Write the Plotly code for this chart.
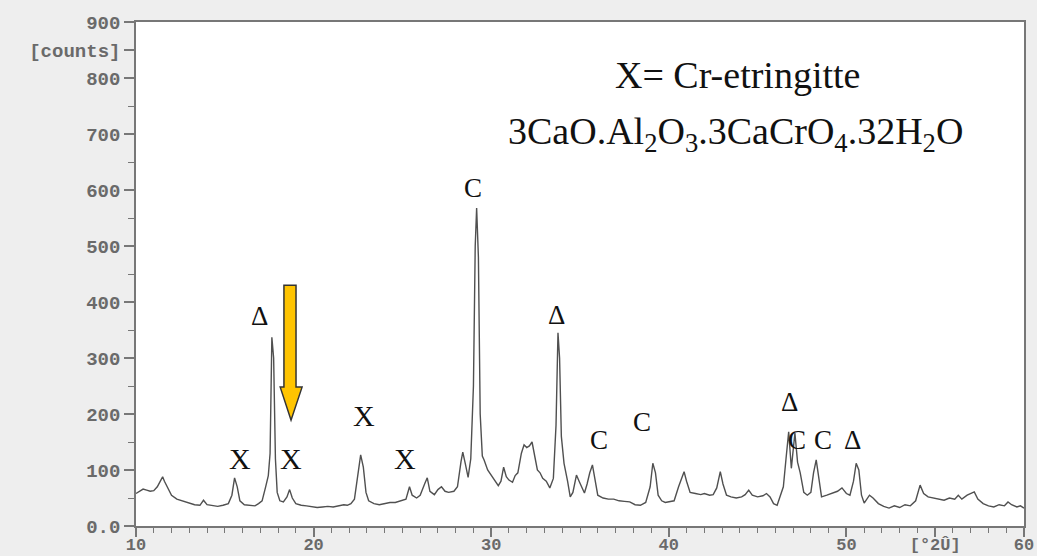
import plotly.graph_objects as go

# XRD pattern (2-theta in degrees, intensity in counts)
two_theta = [
    10.0, 10.2, 10.4, 10.6, 10.8, 11.0, 11.2, 11.4, 11.5, 11.6, 11.8, 12.0, 12.3, 12.6, 13.0, 13.3,
    13.6, 13.8, 14.0, 14.3, 14.6, 14.9, 15.2, 15.4, 15.55, 15.7, 15.85, 16.1, 16.4, 16.7, 16.9, 17.1,
    17.3, 17.45, 17.55, 17.65, 17.75, 17.85, 17.95, 18.1, 18.3, 18.5, 18.65, 18.8, 19.0, 19.3, 19.6,
    19.9, 20.2, 20.5, 20.8, 21.1, 21.4, 21.7, 21.9, 22.1, 22.3, 22.5, 22.65, 22.8, 22.95, 23.1, 23.4,
    23.7, 24.0, 24.3, 24.6, 24.9, 25.2, 25.4, 25.55, 25.8, 26.0, 26.25, 26.4, 26.55, 26.8, 27.0, 27.2,
    27.4, 27.6, 27.9, 28.1, 28.3, 28.4, 28.55, 28.7, 28.85, 29.0, 29.1, 29.18, 29.28, 29.38, 29.5,
    29.6, 29.8, 30.0, 30.2, 30.4, 30.55, 30.7, 30.85, 31.0, 31.2, 31.35, 31.5, 31.7, 31.85, 32.0,
    32.15, 32.3, 32.45, 32.6, 32.75, 32.9, 33.1, 33.3, 33.5, 33.65, 33.76, 33.85, 33.95, 34.1, 34.3,
    34.45, 34.6, 34.8, 34.95, 35.1, 35.25, 35.4, 35.55, 35.7, 35.85, 36.0, 36.3, 36.6, 36.9, 37.2,
    37.5, 37.8, 38.1, 38.4, 38.7, 38.95, 39.1, 39.25, 39.4, 39.6, 39.8, 40.0, 40.3, 40.55, 40.7,
    40.86, 41.0, 41.2, 41.5, 41.8, 42.0, 42.3, 42.5, 42.7, 42.9, 43.05, 43.25, 43.5, 43.8, 44.1,
    44.3, 44.5, 44.7, 45.0, 45.3, 45.5, 45.7, 45.9, 46.1, 46.3, 46.45, 46.6, 46.75, 46.9, 47.0, 47.1,
    47.25, 47.4, 47.6, 47.8, 48.0, 48.15, 48.3, 48.45, 48.6, 48.9, 49.2, 49.5, 49.75, 50.0, 50.2,
    50.4, 50.55, 50.7, 50.85, 51.0, 51.3, 51.5, 51.8, 52.1, 52.4, 52.7, 53.0, 53.3, 53.6, 53.9,
    54.15, 54.35, 54.6, 54.9, 55.2, 55.5, 55.8, 56.1, 56.3, 56.5, 56.8, 57.0, 57.2, 57.4, 57.7,
    58.0, 58.3, 58.6, 58.9, 59.1, 59.3, 59.6, 59.8, 60.0,
]
counts = [
    58, 62, 66, 64, 62, 63, 70, 82, 88, 80, 66, 55, 48, 45, 40, 38,
    37, 46, 38, 36, 35, 37, 40, 55, 86, 70, 45, 38, 37, 36, 40, 45,
    70, 90, 130, 337, 300, 120, 60, 45, 43, 52, 65, 50, 40, 37, 36,
    34, 33, 34, 35, 34, 36, 38, 37, 40, 48, 90, 127, 105, 60, 45, 40,
    38, 40, 42, 42, 45, 48, 70, 55, 50, 55, 75, 86, 62, 56, 65, 70,
    62, 60, 62, 70, 115, 132, 110, 87, 120, 250, 500, 568, 480, 200, 125,
    118, 100, 90, 80, 72, 80, 105, 88, 82, 78, 90, 95, 130, 145, 140,
    143, 150, 125, 100, 95, 85, 80, 68, 85, 180, 345, 300, 160, 112, 80,
    52, 60, 91, 80, 70, 59, 75, 95, 109, 80, 55, 50, 48, 48, 45,
    44, 43, 38, 37, 42, 70, 112, 95, 55, 45, 42, 43, 45, 70, 85,
    97, 80, 60, 58, 56, 58, 55, 56, 68, 97, 75, 55, 52, 50, 52,
    56, 64, 55, 52, 54, 58, 52, 40, 37, 55, 70, 120, 168, 103, 130, 166,
    114, 95, 60, 55, 60, 95, 118, 80, 52, 55, 58, 62, 68, 58, 55,
    80, 112, 100, 55, 41, 55, 50, 40, 35, 32, 36, 33, 38, 36, 45,
    73, 58, 52, 50, 48, 46, 50, 48, 55, 48, 55, 58, 61, 48, 40,
    36, 34, 38, 36, 43, 38, 34, 36, 32,
]

# Peak markers (phase labels)
marker_text = ["Δ", "X", "X", "X", "X", "C", "Δ", "C", "C", "Δ", "C", "C", "Δ"]
marker_x = [16.98, 15.86, 18.73, 22.84, 25.15, 28.97, 33.70, 36.07, 38.50, 46.80, 47.20, 48.68, 50.37]
marker_y = [375, 121, 121, 198, 121, 604, 377, 154, 186, 221, 154, 154, 154]

y_tickvals = [0, 100, 200, 300, 400, 500, 600, 700, 800, 850, 900]
y_ticktext = ["0.0", "100", "200", "300", "400", "500", "600", "700", "800", "[counts]", "900"]
x_tickvals = [10, 20, 30, 40, 50, 55, 60]
x_ticktext = ["10", "20", "30", "40", "50", "[°2Û]", "60"]

fig = go.Figure()
fig.add_trace(go.Scatter(x=two_theta, y=counts, mode="lines",
                         line=dict(color="#505050", width=1.4), showlegend=False,
                         hoverinfo="skip"))

fig.update_xaxes(range=[10, 60], tickvals=x_tickvals, ticktext=x_ticktext,
                 ticks="outside", ticklen=9, tickcolor="#777777", tickwidth=1.5,
                 minor=dict(dtick=1, ticks="outside", ticklen=5, tickcolor="#777777", tickwidth=1.2),
                 showline=True, linecolor="#777777", linewidth=1.5, mirror=True,
                 showgrid=False, zeroline=False, automargin=False, ticklabelstandoff=-7,
                 tickfont=dict(family="Liberation Mono", size=17, color="#6a6a6a", weight="bold"))
fig.update_yaxes(range=[0, 900], tickvals=y_tickvals, ticktext=y_ticktext,
                 ticks="outside", ticklen=10, tickcolor="#777777", tickwidth=1.5,
                 minor=dict(dtick=50, ticks="outside", ticklen=6, tickcolor="#777777", tickwidth=1.2),
                 showline=True, linecolor="#777777", linewidth=1.5, mirror=True,
                 showgrid=False, zeroline=False, automargin=False,
                 tickfont=dict(family="Liberation Mono", size=19, color="#6a6a6a", weight="bold"))

annotations = []
for t, x, y in zip(marker_text, marker_x, marker_y):
    size = 30 if t == "X" else 27
    annotations.append(dict(x=x, y=y, xref="x", yref="y", text=t, showarrow=False,
                            font=dict(family="Liberation Serif", size=size, color="#111111")))
annotations.append(dict(x=43.84, y=805, xref="x", yref="y", text="X= Cr-etringitte",
                        showarrow=False,
                        font=dict(family="Liberation Serif", size=38, color="#111111")))
annotations.append(dict(x=43.73, y=700, xref="x", yref="y",
                        text="3CaO.Al<sub>2</sub>O<sub>3</sub>.3CaCrO<sub>4</sub>.32H<sub>2</sub>O",
                        showarrow=False,
                        font=dict(family="Liberation Serif", size=38, color="#111111")))

# Yellow arrow shape (pointing down to the X peak near 18.7°)
arrow_path = ("M 18.33 430 L 19.01 430 L 19.01 248 L 19.35 248 "
              "L 18.73 189 L 18.12 248 L 18.33 248 Z")
fig.add_shape(type="path", path=arrow_path, xref="x", yref="y",
              fillcolor="#FFC400", line=dict(color="#333333", width=1.5))

fig.update_layout(width=1037, height=556,
                  margin=dict(l=136, r=13, t=22, b=30),
                  paper_bgcolor="#eeeeee", plot_bgcolor="#ffffff",
                  annotations=annotations)

fig.write_html("out.html", config={"displayModeBar": False},
               post_script="document.body.style.margin='0px';document.body.style.background='#eeeeee';")
